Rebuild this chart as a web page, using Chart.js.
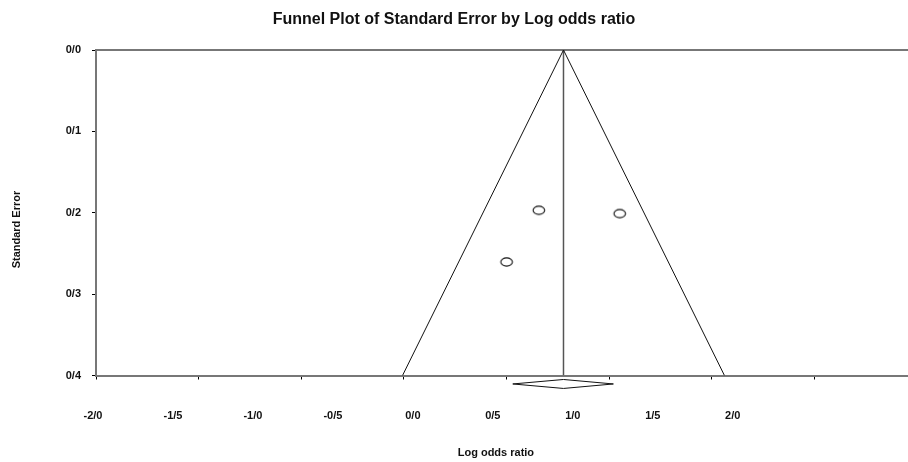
<!DOCTYPE html>
<html>
<head>
<meta charset="utf-8">
<script src="https://cdn.jsdelivr.net/npm/chart.js@4"></script>
<style>
  body { margin: 0; background: #fff; }
</style>
</head>
<body>
<canvas id="funnel" width="908" height="462"></canvas>
<script>
// studies (log odds ratio, standard error)
const studyLogOdds = [0.157, 0.551, 0.0];
const studyStdErr = [0.197, 0.201, 0.2605];

// pooled estimate + 95% CI (the diamond)
const pooledEstimate = 0.277;
const pooledLower = 0.030;
const pooledUpper = 0.520;

// tick labels as printed on the original (slash as decimal mark)
const xTickLabels = ['-2/0', '-1/5', '-1/0', '-0/5', '0/0', '0/5', '1/0', '1/5', '2/0'];
const yTickLabels = ['0/0', '0/1', '0/2', '0/3', '0/4'];

const maxSE = 0.4;
const z = 1.96;

// hollow ellipse marker
function ellipseMarker() {
  const c = document.createElement('canvas');
  c.width = 16; c.height = 12;
  const g = c.getContext('2d');
  g.strokeStyle = '#111';
  g.lineWidth = 1.1;
  g.beginPath();
  g.ellipse(8, 6, 5.8, 4.1, 0, 0, Math.PI * 2);
  g.stroke();
  return c;
}

const studyPoints = studyLogOdds.map((x, i) => ({x: x, y: studyStdErr[i]}));
const funnelPts = [
  {x: pooledEstimate - z * maxSE, y: maxSE},
  {x: pooledEstimate, y: 0},
  {x: pooledEstimate + z * maxSE, y: maxSE}
];
const centerPts = [{x: pooledEstimate, y: 0}, {x: pooledEstimate, y: maxSE}];
const dRow = 0.4104, dH = 0.0055;
const diamondPts = [
  {x: pooledLower, y: dRow},
  {x: pooledEstimate, y: dRow - dH},
  {x: pooledUpper, y: dRow},
  {x: pooledEstimate, y: dRow + dH},
  {x: pooledLower, y: dRow}
];

const font = "'Liberation Sans', Arial, sans-serif";
const axisGrey = '#777';
const noSidePad = s => { s.paddingLeft = 0; s.paddingRight = 0; };

new Chart(document.getElementById('funnel'), {
  type: 'scatter',
  data: {
    datasets: [{
      data: studyPoints,
      pointStyle: ellipseMarker(),
      pointRadius: 5,
      showLine: false
    }, {
      data: funnelPts,
      showLine: true,
      borderColor: '#111',
      borderWidth: 1,
      pointRadius: 0
    }, {
      data: centerPts,
      showLine: true,
      borderColor: '#555',
      borderWidth: 1.5,
      pointRadius: 0
    }, {
      data: diamondPts,
      showLine: true,
      borderColor: '#111',
      borderWidth: 1,
      pointRadius: 0,
      clip: false
    }]
  },
  options: {
    responsive: false,
    animation: false,
    layout: {padding: 0, autoPadding: false},
    plugins: {
      legend: {display: false},
      tooltip: {enabled: false},
      title: {
        display: true,
        text: 'Funnel Plot of Standard Error by Log odds ratio',
        color: '#111',
        font: {family: font, size: 16, weight: 'bold'},
        padding: {top: 10, bottom: 20.8}
      }
    },
    scales: {
      x: {
        type: 'linear',
        position: 'bottom',
        min: -2,
        max: 1.955,
        ticks: {display: false, stepSize: 0.5, includeBounds: false},
        grid: {drawOnChartArea: false, tickLength: 4, color: '#000'},
        border: {color: axisGrey, width: 2},
        afterFit: s => { s.height = 3; noSidePad(s); }
      },
      xLabels: {
        type: 'linear',
        position: 'bottom',
        min: -2,
        max: 3.077,
        grid: {display: false, drawTicks: false},
        border: {display: false},
        ticks: {
          stepSize: 0.5,
          includeBounds: false,
          maxRotation: 0,
          autoSkip: false,
          padding: 31,
          labelOffset: -3,
          color: '#111',
          font: {family: font, size: 11, weight: 'bold'},
          callback: (v, i) => xTickLabels[i] ?? ''
        },
        title: {
          display: true,
          text: 'Log odds ratio    ',
          color: '#111',
          font: {family: font, size: 11, weight: 'bold'},
          padding: {top: 0, bottom: 2}
        },
        afterFit: s => { s.height = 83.5; noSidePad(s); }
      },
      top: {
        type: 'linear',
        position: 'top',
        min: -2,
        max: 1.955,
        ticks: {display: false},
        grid: {display: false},
        border: {color: axisGrey, width: 2},
        afterFit: s => { s.height = 0; noSidePad(s); }
      },
      y: {
        reverse: true,
        min: 0,
        max: maxSE,
        ticks: {
          stepSize: 0.1,
          padding: 11,
          color: '#111',
          font: {family: font, size: 11, weight: 'bold'},
          callback: v => yTickLabels[Math.round(v * 10)]
        },
        grid: {drawOnChartArea: false, tickLength: 4, color: '#000'},
        border: {color: axisGrey, width: 2},
        title: {
          display: true,
          text: 'Standard Error           ',
          color: '#111',
          font: {family: font, size: 11, weight: 'bold'},
          padding: {top: 10, bottom: 0}
        },
        afterFit: s => { s.width = 96; }
      }
    }
  }
});
</script>
</body>
</html>
